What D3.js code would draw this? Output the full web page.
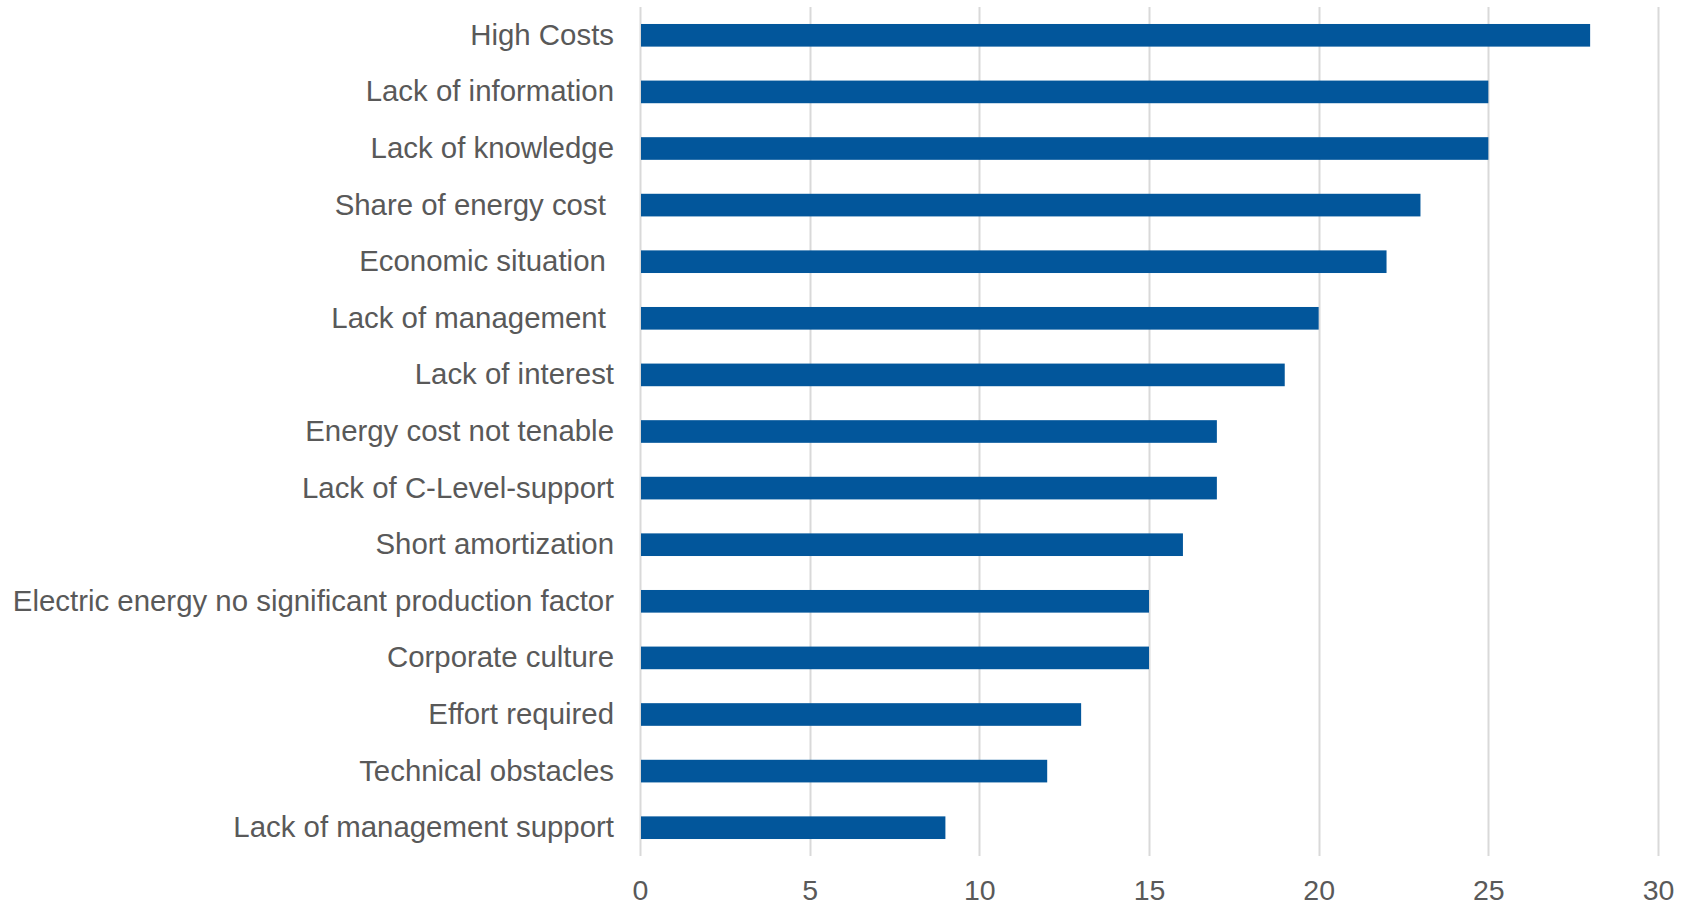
<!DOCTYPE html>
<html>
<head>
<meta charset="utf-8">
<script src="https://cdn.jsdelivr.net/npm/d3@7"></script>
<style>
  body { margin: 0; background: #fff; }
  text { font-family: "Liberation Sans", Arial, sans-serif; fill: #595959; white-space: pre; }
</style>
</head>
<body>
<svg id="chart"></svg>
<script>
var categories = [
  "High Costs",
  "Lack of information",
  "Lack of knowledge",
  "Share of energy cost ",
  "Economic situation ",
  "Lack of management ",
  "Lack of interest",
  "Energy cost not tenable",
  "Lack of C-Level-support",
  "Short amortization",
  "Electric energy no significant production factor",
  "Corporate culture",
  "Effort required",
  "Technical obstacles",
  "Lack of management support"
];
var values = [28, 25, 25, 23, 22, 20, 19, 17, 17, 16, 15, 15, 13, 12, 9];
var xTicks = [0, 5, 10, 15, 20, 25, 30];

var W = 1682, H = 906;
var margin = {top: 7, right: 24, bottom: 50, left: 640};
var width = W - margin.left - margin.right;
var height = H - margin.top - margin.bottom;

var svg = d3.select("#chart").attr("width", W).attr("height", H);
var g = svg.append("g").attr("transform", "translate(" + margin.left + "," + margin.top + ")");

var x = d3.scaleLinear().domain([0, 30]).range([0, width]);
var y = d3.scaleBand().domain(categories).range([0, height]).paddingInner(0.6).paddingOuter(0.3);

// vertical grid lines
g.append("g").selectAll("line").data(xTicks).enter().append("line")
  .attr("x1", function(d) { return Math.round(x(d)) + 0.5; })
  .attr("x2", function(d) { return Math.round(x(d)) + 0.5; })
  .attr("y1", 0).attr("y2", height)
  .style("stroke", "#d9d9d9").style("stroke-width", 2);

// bars
g.append("g").selectAll("rect").data(values).enter().append("rect")
  .attr("x", x(0) + 1)
  .attr("y", function(d, i) { return y(categories[i]); })
  .attr("width", function(d) { return x(d) - x(0) - 1; })
  .attr("height", y.bandwidth())
  .style("fill", "#02569b");

// category labels
var yAxis = d3.axisLeft(y).tickSize(0).tickPadding(26);
var ya = g.append("g").call(yAxis);
ya.select(".domain").remove();
ya.selectAll("text").style("font-size", "29.4px").style("fill", "#595959");

// x tick labels
var xAxis = d3.axisBottom(x).tickValues(xTicks).tickSize(0).tickPadding(24);
var xa = g.append("g").attr("transform", "translate(0," + height + ")").call(xAxis);
xa.select(".domain").remove();
xa.selectAll("text").style("font-size", "28.5px").style("fill", "#595959");
</script>
</body>
</html>
